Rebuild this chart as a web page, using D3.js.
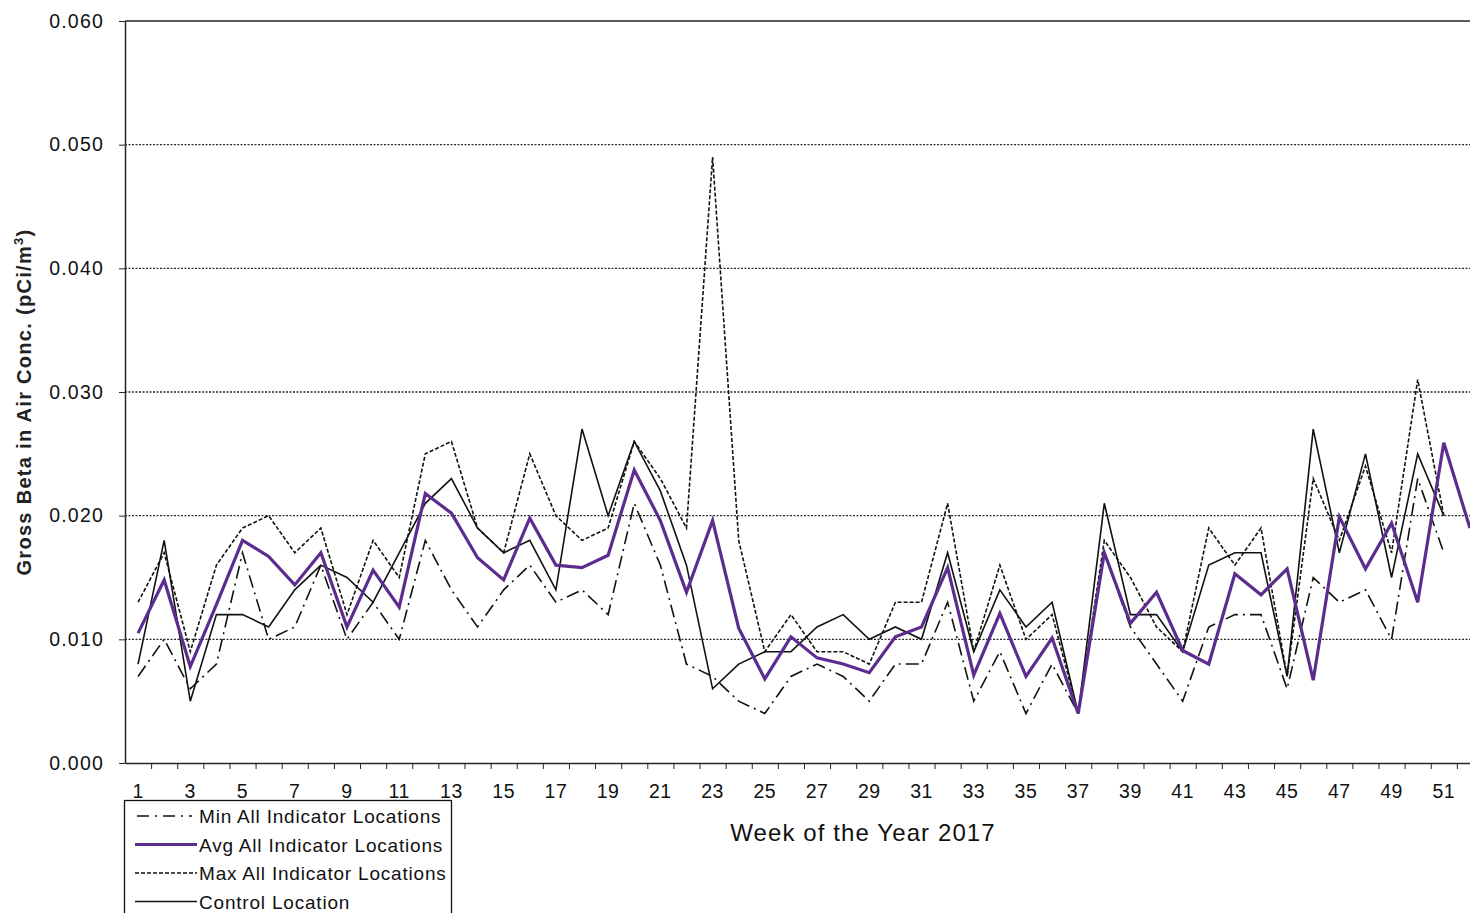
<!DOCTYPE html>
<html>
<head>
<meta charset="utf-8">
<script src="https://cdn.jsdelivr.net/npm/d3@7"></script>
<style>
  body { margin: 0; background: #fff; }
  svg { display: block; font-family: "Liberation Sans", Arial, sans-serif; }
</style>
</head>
<body>
<div id="chart"></div>
<script>
// week numbers 1..52
var weeks = d3.range(1, 53);

// Min All Indicator Locations
var minVals = [0.007, 0.010, 0.006, 0.008, 0.017, 0.010, 0.011, 0.016, 0.010, 0.013,
  0.010, 0.018, 0.014, 0.011, 0.014, 0.016, 0.013, 0.014, 0.012, 0.021,
  0.016, 0.008, 0.007, 0.005, 0.004, 0.007, 0.008, 0.007, 0.005, 0.008,
  0.008, 0.013, 0.005, 0.009, 0.004, 0.008, 0.004, 0.017, 0.011, 0.008,
  0.005, 0.011, 0.012, 0.012, 0.006, 0.015, 0.013, 0.014, 0.010, 0.023,
  0.017, null];

// Avg All Indicator Locations
var avgVals = [0.0105, 0.0148, 0.0078, 0.0128, 0.0180, 0.0167, 0.0144, 0.0170, 0.0110, 0.0156,
  0.0126, 0.0218, 0.0202, 0.0166, 0.0148, 0.0198, 0.0160, 0.0158, 0.0168, 0.0237,
  0.0196, 0.0138, 0.0196, 0.0109, 0.0068, 0.0102, 0.0085, 0.0080, 0.0073, 0.0102,
  0.0110, 0.0158, 0.0071, 0.0121, 0.0070, 0.0101, 0.0040, 0.0170, 0.0113, 0.0138,
  0.0091, 0.0080, 0.0153, 0.0136, 0.0157, 0.0067, 0.0199, 0.0157, 0.0194, 0.0130,
  0.0259, 0.0190];

// Max All Indicator Locations
var maxVals = [0.013, 0.017, 0.009, 0.016, 0.019, 0.020, 0.017, 0.019, 0.012, 0.018,
  0.015, 0.025, 0.026, 0.019, 0.017, 0.025, 0.020, 0.018, 0.019, 0.026,
  0.023, 0.019, 0.049, 0.018, 0.009, 0.012, 0.009, 0.009, 0.008, 0.013,
  0.013, 0.021, 0.009, 0.016, 0.010, 0.012, 0.004, 0.018, 0.015, 0.011,
  0.009, 0.019, 0.016, 0.019, 0.007, 0.023, 0.018, 0.024, 0.017, 0.031,
  0.020, null];

// Control Location
var ctrlVals = [0.008, 0.018, 0.005, 0.012, 0.012, 0.011, 0.014, 0.016, 0.015, 0.013,
  0.017, 0.021, 0.023, 0.019, 0.017, 0.018, 0.014, 0.027, 0.020, 0.026,
  0.022, 0.016, 0.006, 0.008, 0.009, 0.009, 0.011, 0.012, 0.010, 0.011,
  0.010, 0.017, 0.009, 0.014, 0.011, 0.013, 0.004, 0.021, 0.012, 0.012,
  0.009, 0.016, 0.017, 0.017, 0.007, 0.027, 0.017, 0.025, 0.015, 0.025,
  0.020, null];

var yTicks = [0, 0.01, 0.02, 0.03, 0.04, 0.05, 0.06];
var xLabels = d3.range(1, 52, 2);

var W = 1470, H = 913;
var margin = { top: 21, left: 125, bottom: 150 };

var svg = d3.select("#chart").append("svg")
    .attr("width", W)
    .attr("height", H);

var x = d3.scaleLinear()
    .domain([0.5, 52.5])
    .range([margin.left, margin.left + 52 * 26.115]);

var y = d3.scaleLinear()
    .domain([0, 0.06])
    .range([763, margin.top]);

//gridlines
svg.append("g")
  .selectAll("line")
  .data(yTicks.filter(function (d) { return d > 0 && d < 0.06; }))
  .enter().append("line")
    .attr("x1", x(0.5)).attr("x2", W)
    .attr("y1", function (d) { return y(d); })
    .attr("y2", function (d) { return y(d); })
    .attr("stroke", "#2a2a2a")
    .attr("stroke-width", 1.3)
    .attr("stroke-dasharray", "2,1.5");

//top frame line
svg.append("line")
    .attr("x1", x(0.5)).attr("x2", W)
    .attr("y1", y(0.06)).attr("y2", y(0.06))
    .attr("stroke", "#2a2228").attr("stroke-width", 1.5);

//y axis
var yAxis = d3.axisLeft(y)
    .tickValues(yTicks)
    .tickFormat(d3.format(".3f"))
    .tickSize(6)
    .tickSizeOuter(0);

var gy = svg.append("g")
    .attr("transform", "translate(" + x(0.5) + ",0)")
    .call(yAxis);
gy.select(".domain").attr("stroke", "#2a2228").attr("stroke-width", 1.5);
gy.selectAll(".tick line").attr("stroke", "#2a2228");
gy.selectAll(".tick text")
    .attr("x", -21)
    .style("font-size", "19.5px")
    .style("letter-spacing", "1.2px")
    .attr("fill", "#111");

//x axis: ticks between weeks, labels on odd weeks
var xAxis = d3.axisBottom(x)
    .tickValues(d3.range(1.5, 52.5, 1))
    .tickFormat("")
    .tickSize(6)
    .tickSizeOuter(0);

var gx = svg.append("g")
    .attr("transform", "translate(0," + y(0) + ")")
    .call(xAxis);
gx.select(".domain").attr("stroke", "#2a2228").attr("stroke-width", 1.5);
gx.selectAll(".tick line").attr("stroke", "#2a2228");

svg.append("g")
  .selectAll("text")
  .data(xLabels)
  .enter().append("text")
    .attr("x", function (d) { return x(d); })
    .attr("y", 798)
    .attr("text-anchor", "middle")
    .style("font-size", "19.5px")
    .style("letter-spacing", "0.5px")
    .attr("fill", "#111")
    .text(function (d) { return d; });

//axis titles
var yTitle = svg.append("text")
    .attr("transform", "translate(31,402) rotate(-90)")
    .attr("text-anchor", "middle")
    .style("font-size", "20px")
    .style("font-weight", "bold")
    .style("letter-spacing", "1.3px")
    .attr("fill", "#222");
yTitle.append("tspan").text("Gross Beta in Air Conc.  (pCi/m");
yTitle.append("tspan").attr("dy", -8).style("font-size", "13px").text("3");
yTitle.append("tspan").attr("dy", 8).text(")");

svg.append("text")
    .attr("x", 863)
    .attr("y", 841)
    .attr("text-anchor", "middle")
    .style("font-size", "24px")
    .style("letter-spacing", "1.1px")
    .attr("fill", "#111")
    .text("Week of the Year 2017");

//series
var series = [
  { name: "Min All Indicator Locations", values: minVals, color: "#111", width: 1.6, dash: "13,5,2,5" },
  { name: "Avg All Indicator Locations", values: avgVals, color: "#5c2d8e", width: 3.2, dash: null },
  { name: "Max All Indicator Locations", values: maxVals, color: "#111", width: 1.6, dash: "4,2" },
  { name: "Control Location", values: ctrlVals, color: "#111", width: 1.6, dash: null }
];

var line = d3.line()
    .defined(function (d) { return d[1] != null; })
    .x(function (d) { return x(d[0]); })
    .y(function (d) { return y(d[1]); });

var drawOrder = [0, 2, 3, 1];
drawOrder.forEach(function (i) {
  var s = series[i];
  svg.append("path")
      .datum(weeks.map(function (w, j) { return [w, s.values[j]]; }))
      .attr("d", line)
      .attr("fill", "none")
      .attr("stroke", s.color)
      .attr("stroke-width", s.width)
      .attr("stroke-linejoin", "miter")
      .attr("stroke-dasharray", s.dash);
});

//legend
var legend = svg.append("g");
legend.append("rect")
    .attr("x", 124.5).attr("y", 800.5)
    .attr("width", 327).attr("height", 130)
    .attr("fill", "#fff")
    .attr("stroke", "#111")
    .attr("stroke-width", 1.3);

var legendDash = ["12,6,2,6", null, "4,2", null];
series.forEach(function (s, i) {
  var ly = 816 + i * 28.5;
  legend.append("line")
      .attr("x1", i == 0 ? 137 : 135).attr("x2", i == 0 ? 192 : 197)
      .attr("y1", ly).attr("y2", ly)
      .attr("stroke", s.color)
      .attr("stroke-width", i == 1 ? 3 : 1.6)
      .attr("stroke-dasharray", legendDash[i]);
  legend.append("text")
      .attr("x", 199)
      .attr("y", ly + 7)
      .style("font-size", "19px")
      .style("letter-spacing", "0.8px")
      .attr("fill", "#111")
      .text(s.name);
});
</script>
</body>
</html>
